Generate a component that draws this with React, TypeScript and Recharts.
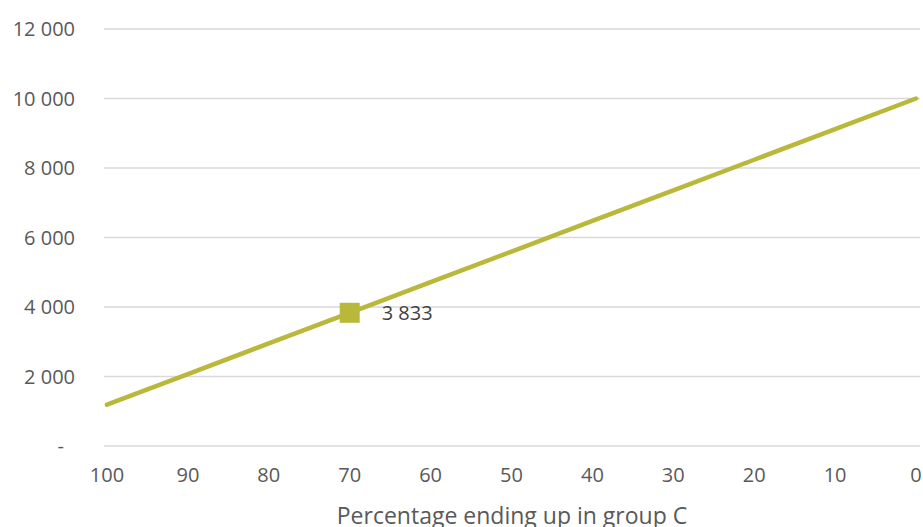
import React from 'react';
import { LineChart, Line, XAxis, YAxis, CartesianGrid, Label } from 'recharts';

// percentage ending up in group C, from 100 down to 0
const shares = ['100', '90', '80', '70', '60', '50', '40', '30', '20', '10', '0'];
const totals = [1190, 2071, 2952, 3833, 4714, 5595, 6476, 7357, 8238, 9119, 10000];
const yTicks = [0, 2000, 4000, 6000, 8000, 10000, 12000];
const highlighted = '70';

const data = shares.map((share, i) => ({ share, total: totals[i] }));

const FONT = '"Open Sans", sans-serif';
const LINE_COLOR = '#BAB83A';

const fmt = (v: number) => (v === 0 ? '-' : String(v).replace(/\B(?=(\d{3})+(?!\d))/g, ' '));

const YTick = (props: any) => {
  const { x, y, payload } = props;
  const shift = payload.value === 0 ? 11 : 0;
  return (
    <text x={x - shift} y={y} dy="0.35em" textAnchor="end" fill="#595959" fontSize={20} fontFamily={FONT}>
      {fmt(payload.value)}
    </text>
  );
};

const Marker = (props: any) => {
  const { cx, cy, payload, index } = props;
  if (payload.share !== highlighted) return <g key={`m-${index}`} />;
  return <rect key={`m-${index}`} x={cx - 10} y={cy - 10} width={20} height={20} fill={LINE_COLOR} />;
};

const ValueLabel = (props: any) => {
  const { x, y, index, value } = props;
  if (shares[index] !== highlighted) return <g key={`l-${index}`} />;
  return (
    <text key={`l-${index}`} x={x + 32} y={y} dy="0.35em" textAnchor="start" fill="#404040" fontSize={20} fontFamily={FONT}>
      {fmt(value)}
    </text>
  );
};

export default function App() {
  return (
    <div style={{ position: 'absolute', left: 0, top: 0, background: '#fff' }}>
      <LineChart width={923} height={527} data={data} margin={{ top: 29, right: 3, left: 0, bottom: 0 }}>
        <CartesianGrid vertical={false} stroke="#D9D9D9" strokeWidth={1.3} />
        <XAxis
          dataKey="share"
          type="category"
          padding={{ left: 3, right: 4 }}
          axisLine={false}
          tickLine={false}
          tickSize={0}
          tickMargin={22}
          height={81}
          interval={0}
          tick={{ fill: '#595959', fontSize: 20, fontFamily: FONT }}
        >
          <Label
            value="Percentage ending up in group C"
            position="insideBottom"
            offset={3}
            fill="#595959"
            fontSize={23}
            fontFamily={FONT}
          />
        </XAxis>
        <YAxis
          domain={[0, 12000]}
          ticks={yTicks}
          width={104}
          axisLine={false}
          tickLine={false}
          tickSize={0}
          tickMargin={29}
          tick={<YTick />}
        />
        <Line
          dataKey="total"
          stroke={LINE_COLOR}
          strokeWidth={4.5}
          strokeLinecap="round"
          dot={Marker}
          activeDot={false}
          label={ValueLabel}
          isAnimationActive={false}
        />
      </LineChart>
    </div>
  );
}
